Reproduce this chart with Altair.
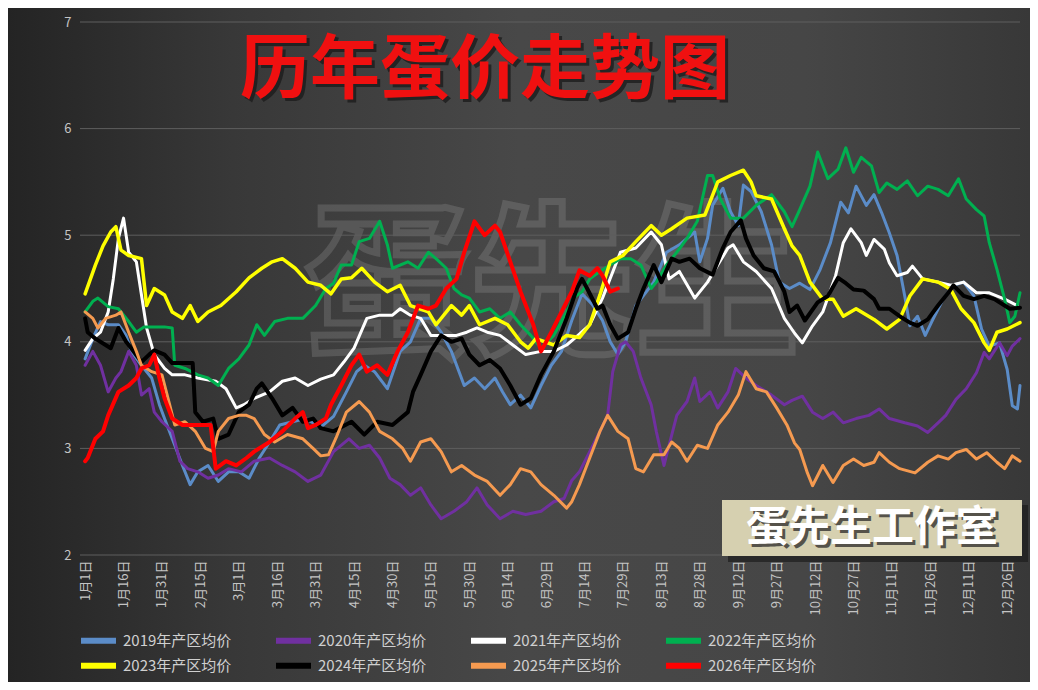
import altair as alt
import pandas as pd

FONT = "Noto Sans CJK SC"
TITLE = "历年蛋价走势图"
BRAND = "蛋先生工作室"
WATERMARK = "蛋先生"

X_LABELS = ["1月1日", "1月16日", "1月31日", "2月15日", "3月1日", "3月16日", "3月31日",
            "4月15日", "4月30日", "5月15日", "5月30日", "6月14日", "6月29日", "7月14日",
            "7月29日", "8月13日", "8月28日", "9月12日", "9月27日", "10月12日", "10月27日",
            "11月11日", "11月26日", "12月11日", "12月26日"]
Y_TICKS = [2, 3, 4, 5, 6, 7]

SERIES = ["2019年产区均价", "2020年产区均价", "2021年产区均价", "2022年产区均价",
          "2023年产区均价", "2024年产区均价", "2025年产区均价", "2026年产区均价"]
COLORS = ["#5b8cc8", "#7030a0", "#ffffff", "#00b050", "#ffff00", "#000000", "#f59a50", "#ff0000"]
WIDTHS = [3, 3, 3, 3, 3.5, 4, 3, 4]

IDX_2019 = [0, 3, 6, 9, 13, 16, 18, 22, 26, 29, 31, 35, 38, 41, 44, 48, 52, 56, 60, 64, 68, 72, 76, 81, 86, 92, 97, 102, 106, 109, 113, 118, 123, 127, 131, 135, 139, 143, 148, 152, 156, 160, 163, 166, 170, 174, 178, 182, 186, 190, 194, 198, 202, 205, 208, 211, 215, 222, 227, 232, 238, 240, 243, 245, 249, 252, 255, 257, 260, 264, 268, 271, 275, 279, 283, 287, 291, 295, 298, 301, 305, 308, 311, 314, 317, 320, 322, 325, 328, 331, 335, 339, 343, 347, 350, 353, 357, 360, 362, 364, 365]
VAL_2019 = [3.84, 4.03, 4.19, 4.16, 4.16, 4.06, 3.91, 3.78, 3.66, 3.41, 3.28, 3.03, 2.84, 2.66, 2.78, 2.84, 2.69, 2.78, 2.78, 2.72, 2.91, 3.06, 3.22, 3.25, 3.28, 3.2, 3.3, 3.53, 3.72, 3.78, 3.72, 3.56, 3.91, 4.0, 4.22, 4.22, 4.09, 3.91, 3.59, 3.66, 3.56, 3.66, 3.53, 3.41, 3.5, 3.38, 3.59, 3.78, 3.91, 4.2, 4.45, 4.35, 4.2, 4.0, 3.88, 4.0, 4.34, 4.56, 4.84, 4.91, 5.03, 4.75, 4.97, 5.28, 5.44, 5.22, 5.09, 5.47, 5.41, 5.22, 4.91, 4.56, 4.5, 4.55, 4.49, 4.68, 4.93, 5.31, 5.21, 5.46, 5.28, 5.38, 5.21, 5.02, 4.81, 4.43, 4.15, 4.24, 4.06, 4.21, 4.4, 4.53, 4.56, 4.43, 4.12, 3.96, 3.99, 3.74, 3.4, 3.37, 3.59]

IDX_2020 = [0, 3, 6, 9, 12, 14, 17, 20, 22, 25, 27, 30, 34, 37, 40, 44, 48, 52, 56, 61, 66, 72, 77, 82, 87, 92, 97, 103, 107, 111, 115, 119, 123, 127, 131, 135, 139, 144, 149, 153, 157, 162, 167, 172, 178, 183, 187, 190, 193, 197, 201, 204, 206, 209, 211, 214, 217, 221, 223, 226, 228, 231, 235, 238, 240, 244, 247, 251, 254, 258, 262, 268, 273, 276, 280, 284, 288, 292, 296, 301, 306, 310, 314, 320, 325, 329, 333, 336, 340, 344, 348, 351, 353, 357, 360, 362, 365]
VAL_2020 = [3.78, 3.91, 3.78, 3.53, 3.66, 3.72, 3.91, 3.78, 3.5, 3.56, 3.34, 3.25, 3.16, 2.88, 2.81, 2.78, 2.72, 2.75, 2.81, 2.78, 2.88, 2.91, 2.84, 2.78, 2.69, 2.75, 2.97, 3.09, 3.0, 3.03, 2.91, 2.72, 2.66, 2.56, 2.63, 2.47, 2.34, 2.41, 2.5, 2.63, 2.47, 2.34, 2.41, 2.38, 2.41, 2.5, 2.53, 2.7, 2.78, 2.97, 3.16, 3.31, 3.72, 3.97, 4.0, 3.91, 3.66, 3.41, 3.16, 2.84, 3.03, 3.31, 3.44, 3.66, 3.44, 3.53, 3.38, 3.53, 3.75, 3.66, 3.59, 3.5, 3.41, 3.45, 3.49, 3.34, 3.28, 3.34, 3.24, 3.28, 3.31, 3.37, 3.28, 3.24, 3.21, 3.15, 3.24, 3.31, 3.46, 3.56, 3.71, 3.9, 3.84, 3.99, 3.87, 3.96, 4.03]

IDX_2021 = [0, 3, 6, 9, 11, 13, 15, 17, 20, 22, 24, 27, 31, 34, 39, 44, 51, 55, 59, 62, 66, 72, 77, 82, 87, 92, 97, 101, 105, 110, 115, 120, 123, 127, 131, 135, 140, 145, 149, 153, 157, 162, 167, 172, 178, 183, 188, 192, 197, 202, 209, 215, 221, 225, 228, 232, 238, 243, 247, 251, 253, 257, 262, 268, 273, 277, 280, 284, 288, 293, 296, 299, 303, 305, 308, 312, 314, 317, 321, 323, 327, 333, 338, 343, 348, 353, 359, 364]
VAL_2021 = [3.92, 4.03, 4.09, 4.28, 4.59, 4.97, 5.16, 4.84, 4.75, 4.44, 4.13, 3.88, 3.75, 3.69, 3.69, 3.66, 3.63, 3.56, 3.38, 3.41, 3.47, 3.53, 3.63, 3.66, 3.59, 3.65, 3.69, 3.81, 3.94, 4.22, 4.25, 4.25, 4.31, 4.25, 4.22, 4.06, 4.06, 4.06, 4.09, 4.13, 4.09, 4.06, 3.97, 3.88, 3.91, 3.91, 3.97, 4.05, 4.16, 4.41, 4.84, 4.88, 5.03, 4.91, 4.59, 4.66, 4.41, 4.56, 4.72, 4.88, 4.91, 4.75, 4.66, 4.5, 4.22, 4.08, 3.99, 4.15, 4.28, 4.62, 4.93, 5.06, 4.93, 4.81, 4.96, 4.87, 4.74, 4.62, 4.65, 4.71, 4.59, 4.56, 4.53, 4.56, 4.46, 4.46, 4.4, 4.34]

IDX_2022 = [0, 3, 5, 9, 13, 17, 20, 23, 27, 31, 34, 35, 39, 44, 48, 52, 56, 60, 64, 67, 70, 74, 79, 85, 90, 94, 97, 100, 104, 107, 111, 115, 118, 120, 126, 130, 134, 137, 141, 144, 147, 150, 154, 158, 162, 166, 170, 174, 178, 183, 188, 191, 194, 197, 201, 205, 209, 213, 217, 221, 223, 227, 231, 235, 239, 243, 245, 248, 252, 257, 262, 268, 273, 276, 279, 283, 286, 290, 294, 297, 300, 303, 307, 310, 313, 317, 321, 325, 329, 333, 337, 341, 344, 348, 351, 353, 356, 359, 361, 363, 365]
VAL_2022 = [4.28, 4.38, 4.41, 4.33, 4.31, 4.19, 4.09, 4.14, 4.14, 4.14, 4.13, 3.78, 3.75, 3.69, 3.66, 3.59, 3.75, 3.84, 3.97, 4.16, 4.06, 4.19, 4.22, 4.22, 4.34, 4.5, 4.55, 4.72, 4.72, 4.94, 4.97, 5.13, 4.91, 4.69, 4.75, 4.69, 4.84, 4.78, 4.69, 4.5, 4.44, 4.41, 4.28, 4.31, 4.22, 4.28, 4.16, 4.06, 3.94, 4.06, 4.28, 4.42, 4.47, 4.59, 4.66, 4.72, 4.78, 4.78, 4.72, 4.5, 4.56, 4.72, 4.84, 4.97, 5.13, 5.56, 5.56, 5.34, 5.16, 5.16, 5.28, 5.38, 5.22, 5.08, 5.24, 5.46, 5.78, 5.53, 5.62, 5.82, 5.59, 5.73, 5.65, 5.4, 5.49, 5.43, 5.51, 5.37, 5.46, 5.43, 5.37, 5.53, 5.34, 5.24, 5.18, 4.93, 4.68, 4.4, 4.18, 4.24, 4.46]

IDX_2023 = [0, 4, 7, 10, 12, 14, 17, 22, 24, 27, 31, 34, 38, 41, 44, 48, 53, 59, 64, 69, 73, 77, 82, 87, 92, 96, 100, 104, 108, 113, 118, 123, 127, 134, 137, 143, 147, 150, 154, 160, 165, 170, 173, 176, 183, 188, 193, 197, 201, 205, 210, 215, 221, 225, 229, 235, 242, 247, 252, 257, 260, 262, 268, 273, 276, 279, 283, 288, 292, 296, 301, 308, 313, 318, 322, 327, 333, 338, 342, 347, 351, 353, 356, 360, 365]
VAL_2023 = [4.45, 4.72, 4.9, 5.03, 5.08, 4.86, 4.81, 4.78, 4.34, 4.5, 4.44, 4.28, 4.22, 4.34, 4.19, 4.28, 4.34, 4.47, 4.6, 4.69, 4.75, 4.78, 4.69, 4.56, 4.53, 4.45, 4.59, 4.6, 4.69, 4.56, 4.47, 4.53, 4.34, 4.28, 4.16, 4.34, 4.25, 4.34, 4.16, 4.22, 4.16, 4.0, 3.94, 4.03, 3.97, 4.06, 4.04, 4.16, 4.44, 4.75, 4.81, 4.94, 5.09, 5.0, 5.06, 5.16, 5.19, 5.5, 5.56, 5.61, 5.5, 5.37, 5.34, 5.06, 4.9, 4.81, 4.56, 4.4, 4.4, 4.24, 4.31, 4.21, 4.12, 4.21, 4.43, 4.59, 4.56, 4.49, 4.31, 4.18, 3.99, 3.92, 4.09, 4.12, 4.18]

IDX_2024 = [0, 1, 4, 8, 10, 13, 16, 18, 22, 25, 27, 31, 34, 42, 43, 46, 50, 52, 56, 60, 64, 67, 69, 73, 77, 81, 85, 89, 92, 97, 104, 109, 114, 120, 126, 128, 131, 135, 139, 143, 147, 150, 154, 158, 162, 166, 170, 174, 178, 183, 188, 192, 194, 196, 200, 202, 205, 208, 212, 215, 218, 222, 225, 229, 232, 236, 240, 245, 249, 252, 256, 258, 261, 265, 269, 273, 275, 278, 281, 286, 290, 294, 297, 300, 304, 308, 310, 314, 318, 322, 325, 329, 333, 337, 339, 343, 347, 351, 355, 359, 361, 365]
VAL_2024 = [4.22, 4.09, 4.03, 3.97, 3.94, 4.13, 4.0, 3.94, 3.81, 3.88, 3.92, 3.88, 3.8, 3.8, 3.34, 3.25, 3.28, 3.09, 3.13, 3.34, 3.41, 3.56, 3.61, 3.47, 3.31, 3.38, 3.25, 3.28, 3.19, 3.16, 3.25, 3.13, 3.25, 3.22, 3.34, 3.53, 3.69, 3.91, 4.06, 4.0, 4.03, 3.88, 3.78, 3.83, 3.75, 3.59, 3.41, 3.47, 3.69, 3.91, 4.22, 4.5, 4.59, 4.5, 4.31, 4.34, 4.16, 4.03, 4.09, 4.31, 4.5, 4.72, 4.56, 4.78, 4.75, 4.78, 4.69, 4.63, 4.88, 5.03, 5.14, 4.97, 4.81, 4.69, 4.66, 4.47, 4.28, 4.34, 4.2, 4.37, 4.43, 4.6, 4.55, 4.49, 4.48, 4.4, 4.31, 4.31, 4.24, 4.18, 4.15, 4.21, 4.34, 4.46, 4.53, 4.43, 4.4, 4.43, 4.4, 4.34, 4.31, 4.32]

IDX_2025 = [0, 3, 5, 8, 12, 14, 17, 20, 22, 26, 30, 33, 35, 39, 43, 47, 50, 52, 56, 60, 63, 66, 70, 74, 79, 85, 89, 92, 95, 98, 102, 107, 111, 115, 120, 124, 127, 131, 135, 139, 143, 147, 152, 157, 162, 166, 170, 174, 178, 183, 188, 190, 193, 197, 201, 204, 208, 212, 215, 218, 222, 226, 229, 232, 235, 239, 243, 247, 251, 255, 258, 262, 266, 270, 274, 277, 279, 282, 284, 288, 292, 296, 300, 304, 308, 310, 314, 318, 324, 329, 333, 337, 340, 344, 348, 352, 356, 359, 362, 365]
VAL_2025 = [4.28, 4.22, 4.13, 4.22, 4.25, 4.28, 4.09, 3.91, 3.78, 3.72, 3.69, 3.41, 3.22, 3.25, 3.16, 3.0, 2.97, 3.16, 3.28, 3.31, 3.31, 3.28, 3.13, 3.06, 3.13, 3.09, 3.0, 2.93, 2.94, 3.1, 3.34, 3.44, 3.34, 3.16, 3.09, 3.0, 2.88, 3.06, 3.09, 2.97, 2.78, 2.84, 2.75, 2.69, 2.56, 2.66, 2.81, 2.78, 2.66, 2.56, 2.44, 2.5, 2.66, 2.91, 3.16, 3.31, 3.16, 3.09, 2.81, 2.78, 2.94, 2.94, 3.06, 3.0, 2.88, 3.03, 3.0, 3.22, 3.34, 3.5, 3.72, 3.56, 3.53, 3.38, 3.22, 3.05, 2.99, 2.77, 2.65, 2.84, 2.68, 2.84, 2.9, 2.84, 2.87, 2.96, 2.87, 2.81, 2.77, 2.87, 2.93, 2.9, 2.96, 2.99, 2.9, 2.96, 2.87, 2.81, 2.93, 2.88]

IDX_2026 = [0, 1, 4, 7, 9, 13, 17, 20, 22, 25, 27, 29, 31, 34, 38, 43, 49, 51, 55, 59, 63, 66, 72, 77, 82, 85, 87, 90, 94, 96, 100, 104, 107, 110, 114, 118, 122, 126, 130, 134, 137, 141, 145, 148, 152, 156, 160, 162, 166, 170, 175, 178, 182, 186, 190, 193, 197, 200, 202, 205, 208]
VAL_2026 = [2.88, 2.91, 3.09, 3.16, 3.31, 3.53, 3.59, 3.66, 3.75, 3.78, 3.88, 3.66, 3.47, 3.28, 3.22, 3.22, 3.22, 2.81, 2.88, 2.84, 2.91, 2.97, 3.06, 3.16, 3.28, 3.34, 3.19, 3.22, 3.28, 3.41, 3.59, 3.78, 3.88, 3.72, 3.78, 3.69, 3.91, 4.09, 4.34, 4.31, 4.34, 4.5, 4.59, 4.84, 5.13, 5.0, 5.09, 5.03, 4.75, 4.47, 4.16, 3.91, 4.09, 4.28, 4.47, 4.67, 4.62, 4.69, 4.62, 4.47, 4.5]

IDXS = [IDX_2019, IDX_2020, IDX_2021, IDX_2022, IDX_2023, IDX_2024, IDX_2025, IDX_2026]
VALS = [VAL_2019, VAL_2020, VAL_2021, VAL_2022, VAL_2023, VAL_2024, VAL_2025, VAL_2026]

W, H = 940, 533
label_arr = "[" + ",".join("'" + s + "'" for s in X_LABELS) + "]"

x_scale = alt.Scale(domain=[-2, 365], nice=False, zero=False)
y_scale = alt.Scale(domain=[2, 7], nice=False, zero=False)

x_axis = alt.Axis(values=[i * 15 for i in range(len(X_LABELS))],
                  labelExpr=label_arr + "[round(datum.value/15)]",
                  labelAngle=-90, title=None, grid=False, domain=False, ticks=False,
                  tickSize=0, labelPadding=5, labelColor="#c4c4c4", labelFontSize=13,
                  labelFont=FONT, labelOverlap=False, labelBound=False, zindex=1)
y_axis = alt.Axis(values=Y_TICKS, title=None, grid=False, domain=False, ticks=False,
                  tickSize=0, labelPadding=9, labelColor="#c4c4c4", labelFontSize=13,
                  labelFont=FONT, zindex=1)


def legend_at(y):
    return alt.Legend(orient="none", legendX=-2, legendY=y, direction="horizontal",
                      columns=4, title=None, symbolType="stroke", symbolSize=1225,
                      symbolStrokeWidth=6, labelFontSize=15, labelColor="#d0d0d0",
                      labelFont=FONT, columnPadding=32, labelOffset=4, labelLimit=300,
                      zindex=2)


one = pd.DataFrame({"t": [TITLE]})

bg = alt.Chart(one).mark_rect(
    fill=alt.LinearGradient(gradient="linear", x1=0, x2=1, y1=0, y2=0,
                            stops=[alt.GradientStop(color="#242424", offset=0),
                                   alt.GradientStop(color="#383838", offset=0.22),
                                   alt.GradientStop(color="#484848", offset=0.5),
                                   alt.GradientStop(color="#464646", offset=0.78),
                                   alt.GradientStop(color="#383838", offset=1)])
).encode(x=alt.value(-72), x2=alt.value(W + 10), y=alt.value(-14), y2=alt.value(H + 127))

wm = alt.Chart(pd.DataFrame({"t": [WATERMARK]})).mark_text(
    font=FONT, fontSize=165, fontWeight="bold", fillOpacity=0, stroke="#a8a8a8",
    strokeWidth=7, strokeOpacity=0.24, align="center", baseline="middle"
).encode(text="t:N", x=alt.value(472), y=alt.value(270))

grid = alt.Chart(pd.DataFrame({"price": Y_TICKS})).mark_rule(color="#5e5e5e", strokeWidth=1).encode(
    y=alt.Y("price:Q", scale=y_scale, axis=y_axis), x=alt.value(0), x2=alt.value(W))

layers = [bg, wm, grid]
for i, (name, idx, val, w) in enumerate(zip(SERIES, IDXS, VALS, WIDTHS)):
    df = pd.DataFrame({"day": idx, "price": val, "series": name})
    base = alt.Chart(df).mark_line(strokeWidth=w, strokeJoin="round", strokeCap="round")
    enc = dict(x=alt.X("day:Q", scale=x_scale, axis=x_axis),
               y=alt.Y("price:Q", scale=y_scale, axis=y_axis))
    if i < 4:
        enc["color"] = alt.Color("series:N",
                                 scale=alt.Scale(domain=SERIES[:4], range=COLORS[:4]),
                                 legend=legend_at(598))
    else:
        enc["stroke"] = alt.Stroke("series:N",
                                   scale=alt.Scale(domain=SERIES[4:], range=COLORS[4:]),
                                   legend=legend_at(623))
    layers.append(base.encode(**enc))

title_shadow = alt.Chart(one).mark_text(
    font=FONT, fontSize=70, fontWeight="bold", color="#1a1a1a", opacity=0.75,
    align="center", baseline="middle"
).encode(text="t:N", x=alt.value(408), y=alt.value(53))
title = alt.Chart(one).mark_text(
    font=FONT, fontSize=70, fontWeight="bold", color="#f01010",
    align="center", baseline="middle"
).encode(text="t:N", x=alt.value(405), y=alt.value(50))

brand_df = pd.DataFrame({"t": [BRAND]})
box_shadow = alt.Chart(brand_df).mark_rect(color="#1c1c1c", opacity=0.7).encode(
    x=alt.value(648), x2=alt.value(948), y=alt.value(483), y2=alt.value(540))
box = alt.Chart(brand_df).mark_rect(color="#d6d0b0").encode(
    x=alt.value(642), x2=alt.value(942), y=alt.value(478), y2=alt.value(534))
brand_shadow = alt.Chart(brand_df).mark_text(
    font=FONT, fontSize=42, fontWeight="bold", color="#55524a",
    align="center", baseline="middle").encode(text="t:N", x=alt.value(795), y=alt.value(509))
brand = alt.Chart(brand_df).mark_text(
    font=FONT, fontSize=42, fontWeight="bold", color="#ffffff",
    align="center", baseline="middle").encode(text="t:N", x=alt.value(792), y=alt.value(506))

layers += [title_shadow, title, box_shadow, box, brand_shadow, brand]

chart = alt.layer(*layers).properties(
    width=W, height=H,
    autosize=alt.AutoSizeParams(type="none"),
    padding={"left": 72, "top": 14, "right": 10, "bottom": 127},
    background="#3a3a3a",
).configure_view(stroke=None, fill=None)

chart.save("out.html", embed_options={"renderer": "svg", "actions": False})
